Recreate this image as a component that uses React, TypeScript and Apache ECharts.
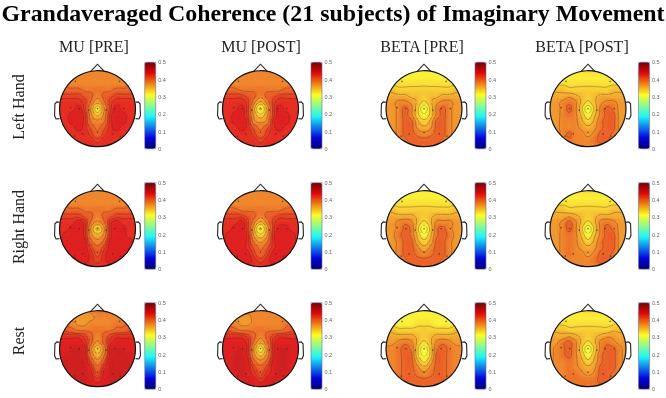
import React, { useEffect, useRef } from "react";
import * as echarts from "echarts";

const chartTitle = "Grandaveraged Coherence (21 subjects) of Imaginary Movement";
const columnNames = ["MU [PRE]", "MU [POST]", "BETA [PRE]", "BETA [POST]"];
const rowNames = ["Left Hand", "Right Hand", "Rest"];
const barTicks = [0, 0.1, 0.2, 0.3, 0.4, 0.5];
const contourLevels = [31.5, 33.5, 35.5, 37.5, 39.5, 41.5, 42.5, 43.5];
const electrodes = [[-.58,.72],[.58,.72],[0,0],[-.71,.03],[-.48,0],[.45,0],[.69,0],[-.39,-.66],[.4,-.66],[0,-.62],[-.23,-.04],[.23,-.04],[-.6,-.72],[.6,-.72]];

// Coherence x 100, rows from the nose to the back of the head, columns from left to right.
const muPreLeft = [
[39,38,38,38,38,38,38,38,38,38,38,38,39],
[39,38,38,38,38,38,38,38,38,38,38,38,39],
[40,39,38,38,38,38,38,38,38,38,38,39,40],
[41,40,40,40,39,39,39,39,39,40,40,40,41],
[42,42,42,42,41,40,38,40,41,42,42,42,42],
[43,43,43,43,42,39,36,39,42,43,43,43,43],
[43,43,43,44,42,37,32,37,42,44,43,43,43],
[43,43,44,44,43,38,35,38,43,44,44,43,43],
[43,43,44,44,43,39,38,39,43,44,44,43,43],
[43,43,43,44,43,41,39,41,43,44,43,43,43],
[43,43,43,43,43,42,40,42,43,43,43,43,43],
[43,43,43,43,43,43,42,43,43,43,43,43,43],
[43,43,43,43,43,43,43,43,43,43,43,43,43],
];
const muPostLeft = [
[39,38,38,38,38,38,38,38,38,38,38,38,39],
[39,38,38,38,38,38,38,38,38,38,38,38,39],
[40,39,38,38,38,38,38,38,38,38,38,39,40],
[41,40,40,39,39,39,39,39,39,39,40,40,41],
[42,42,42,42,41,40,38,40,41,42,42,42,42],
[43,43,43,43,42,38,35,38,42,43,43,43,43],
[43,43,43,44,42,36,31,36,42,44,43,43,43],
[43,43,44,44,42,37,34,37,42,44,44,43,43],
[43,43,44,44,43,38,37,38,43,44,44,43,43],
[43,43,43,44,43,41,39,41,43,44,43,43,43],
[43,43,43,43,43,42,40,42,43,43,43,43,43],
[43,43,43,43,43,43,42,43,43,43,43,43,43],
[43,43,43,43,43,43,43,43,43,43,43,43,43],
];
const betaPreLeft = [
[33,33,32,32,32,32,32,32,32,32,32,33,33],
[34,33,32,32,32,32,32,32,32,32,32,33,34],
[34,33,33,33,33,33,33,33,33,33,33,33,34],
[35,35,34,34,34,34,34,34,34,34,34,35,35],
[36,36,36,36,35,35,34,35,35,36,36,36,36],
[37,37,38,38,37,35,33,35,37,38,38,37,37],
[37,37,38,40,38,34,30,34,38,40,38,37,37],
[37,37,38,40,38,34,32,34,38,40,38,37,37],
[37,37,38,40,40,36,34,36,40,40,38,37,37],
[37,37,38,40,40,37,36,37,40,40,38,37,37],
[37,37,38,40,40,39,38,39,40,40,38,37,37],
[37,37,38,39,40,40,40,40,40,39,38,37,37],
[38,38,38,38,39,40,40,40,39,38,38,38,38],
];
const betaPostLeft = [
[33,33,33,33,33,33,33,33,33,33,33,33,33],
[34,33,32,32,32,32,32,32,32,32,32,33,34],
[34,33,33,33,33,33,33,33,33,33,33,33,34],
[35,35,35,34,34,34,34,34,34,34,35,35,35],
[36,36,36,37,36,35,34,35,36,36,36,36,36],
[37,37,38,39,38,35,33,35,37,38,38,37,37],
[37,37,38,40,38,34,30,34,38,40,39,37,37],
[37,37,38,39,38,35,32,35,38,40,40,37,37],
[37,37,38,38,38,36,34,36,39,40,40,37,37],
[37,37,38,38,38,37,36,37,39,40,40,37,37],
[37,37,38,40,38,38,37,38,40,40,39,37,37],
[37,37,38,39,38,38,38,39,40,40,38,37,37],
[38,38,38,38,38,38,38,38,39,38,38,38,38],
];
const muPreRight = [
[38,38,38,38,38,38,38,38,38,38,38,38,38],
[39,38,38,38,38,38,38,38,38,38,38,38,39],
[40,39,38,38,38,38,38,38,38,38,38,39,40],
[41,40,40,40,39,39,39,39,39,40,40,40,41],
[42,42,42,42,41,40,38,40,41,42,42,42,42],
[43,43,43,44,43,39,37,39,43,44,43,43,43],
[43,43,44,44,43,37,33,37,43,44,44,43,43],
[43,44,44,44,43,38,36,38,43,44,44,43,43],
[43,44,44,44,44,40,38,40,44,44,44,44,43],
[43,44,44,44,44,42,40,42,44,44,44,44,43],
[43,44,44,44,44,43,41,43,44,44,44,43,43],
[43,43,44,44,44,43,42,43,44,44,43,43,43],
[43,43,43,43,43,43,43,43,43,43,43,43,43],
];
const muPostRight = [
[38,38,38,38,38,38,38,38,38,38,38,38,38],
[39,38,38,38,38,38,38,38,38,38,38,38,39],
[40,39,38,38,38,38,38,38,38,38,38,39,40],
[41,40,40,39,39,39,39,39,39,39,40,40,41],
[42,42,42,42,41,40,38,40,41,42,42,42,42],
[43,43,43,44,42,38,35,38,42,43,43,43,43],
[43,43,44,44,42,36,31,36,42,44,44,43,43],
[43,44,44,44,43,37,34,37,43,44,44,44,43],
[43,44,44,44,43,39,37,39,43,44,44,44,43],
[43,44,44,44,43,41,39,41,43,44,44,44,43],
[43,44,44,44,44,42,40,42,44,44,44,43,43],
[43,43,44,44,44,43,42,43,44,44,43,43,43],
[43,43,43,43,43,43,43,43,43,43,43,43,43],
];
const betaPreRight = [
[33,33,32,32,32,32,32,32,32,32,32,33,33],
[34,33,32,32,32,32,32,32,32,32,32,33,34],
[34,33,33,33,33,33,33,33,33,33,33,33,34],
[35,35,34,34,34,34,34,34,34,34,34,35,35],
[36,36,36,36,36,35,34,35,36,36,36,36,36],
[37,37,38,39,38,35,33,35,38,38,38,37,37],
[37,37,38,40,39,34,30,34,39,40,38,37,37],
[37,37,39,40,39,35,32,35,39,40,39,37,37],
[37,37,38,40,40,36,34,36,40,40,38,37,37],
[37,37,38,40,40,38,36,38,40,40,38,37,37],
[37,37,38,40,40,39,38,39,40,40,38,37,37],
[37,37,38,39,40,40,40,40,40,39,38,37,37],
[38,38,38,38,39,40,40,40,39,38,38,38,38],
];
const betaPostRight = [
[33,33,33,33,33,33,33,33,33,33,33,33,33],
[34,33,32,32,32,32,32,32,32,32,32,33,34],
[34,33,33,33,33,33,33,33,33,33,33,33,34],
[35,35,35,34,34,34,34,34,34,34,35,35,35],
[36,36,36,37,36,35,34,35,36,36,36,36,36],
[37,37,38,40,38,35,33,35,38,39,38,37,37],
[37,37,38,40,38,34,30,34,38,40,39,37,37],
[37,37,38,39,38,35,32,35,38,40,40,37,37],
[37,37,38,39,38,36,34,36,39,40,40,37,37],
[37,37,38,39,38,37,36,37,39,40,40,37,37],
[37,37,38,39,38,38,37,38,40,40,39,37,37],
[37,37,38,38,38,38,38,39,40,40,38,37,37],
[38,38,38,38,38,38,38,38,39,38,38,38,38],
];
const muPreRest = [
[39,38,38,37,37,38,39,39,39,39,39,39,39],
[39,38,37,37,37,37,38,38,38,38,38,39,40],
[41,39,38,37,37,38,38,38,38,39,39,40,41],
[42,41,40,39,39,39,39,39,39,40,40,41,42],
[43,43,43,43,42,40,38,40,42,43,43,43,43],
[44,44,44,44,43,40,37,40,43,44,44,44,44],
[44,44,45,45,44,38,34,38,44,45,45,44,44],
[44,45,45,45,44,39,36,39,44,45,45,45,44],
[44,45,45,45,45,41,38,41,45,45,45,45,44],
[44,45,45,45,45,43,40,43,45,45,45,45,44],
[44,44,45,45,45,44,41,44,45,45,45,44,44],
[44,44,45,45,45,44,43,44,45,45,44,44,44],
[43,43,44,44,44,44,44,44,44,44,44,43,43],
];
const muPostRest = [
[39,38,38,38,38,38,38,38,38,38,39,39,39],
[39,38,37,37,37,38,38,38,38,38,38,39,40],
[41,39,38,37,37,38,38,38,38,38,39,40,41],
[42,41,40,39,39,39,39,39,39,39,40,41,42],
[43,43,43,43,42,40,38,40,42,43,43,43,43],
[44,44,44,44,43,39,36,39,43,44,44,44,44],
[44,44,44,45,43,37,32,37,43,45,45,44,44],
[44,44,45,45,43,38,35,38,43,45,45,44,44],
[44,44,45,45,44,40,38,40,44,45,45,44,44],
[44,44,45,45,44,42,40,42,44,45,45,44,44],
[44,44,44,45,44,43,41,43,44,45,44,44,44],
[44,44,44,44,45,44,43,44,45,44,44,44,44],
[43,43,44,44,44,44,44,44,44,44,44,43,43],
];
const betaPreRest = [
[32,32,32,32,32,32,32,32,32,32,32,32,32],
[33,32,32,32,32,32,32,32,32,32,32,32,33],
[34,33,32,32,32,33,33,33,32,32,32,33,34],
[35,35,34,34,34,34,34,34,34,34,34,35,35],
[37,36,36,36,36,35,34,35,36,36,36,36,37],
[37,37,38,39,38,35,33,35,38,39,38,37,37],
[38,38,39,40,39,34,30,34,39,40,39,38,38],
[38,38,39,40,40,34,31,34,40,40,39,38,38],
[38,38,39,40,40,36,33,36,40,40,39,38,38],
[38,38,39,40,40,38,36,38,40,40,39,38,38],
[38,38,39,40,40,39,38,39,40,40,39,38,38],
[38,38,39,40,40,40,40,40,40,40,39,38,38],
[38,38,38,39,39,40,40,40,39,39,38,38,38],
];
const betaPostRest = [
[33,33,33,33,33,33,33,33,33,33,33,33,33],
[33,32,32,32,32,32,32,32,32,32,32,33,34],
[34,33,33,33,33,33,33,33,33,33,33,34,34],
[35,35,35,34,34,34,34,34,34,34,35,35,35],
[37,36,36,37,36,35,34,35,36,37,37,36,37],
[37,37,39,40,38,35,33,35,38,39,38,37,37],
[37,38,39,40,38,34,30,34,38,40,40,38,37],
[37,38,39,40,38,35,32,35,39,40,40,38,37],
[37,38,38,39,38,36,34,36,39,40,40,38,37],
[37,38,38,39,38,37,36,37,40,40,40,38,37],
[37,38,38,39,39,38,37,38,40,40,39,38,37],
[37,37,38,39,39,39,39,39,40,40,38,37,37],
[38,38,38,38,38,39,39,39,39,38,38,38,38],
];

const panels = [
  [muPreLeft, muPostLeft, betaPreLeft, betaPostLeft],
  [muPreRight, muPostRight, betaPreRight, betaPostRight],
  [muPreRest, muPostRest, betaPreRest, betaPostRest],
];

const headX = [97.5, 260.5, 424, 588];
const headY = [108.7, 228.7, 348.7];
const barX = [144.7, 311, 475, 638.5];
const barY = [62.3, 182.7, 302.7];
const columnTitleX = [94, 261, 422, 582];
const rowLabelY = [107, 227, 341];
const R = 38;
const AX = 1.2;
const JET = ["#000080", "#0000ff", "#0080ff", "#00ffff", "#80ff80", "#ffff00", "#ff8000", "#ff0000", "#800000"];
const JET_RGB = JET.map((c) => [1, 3, 5].map((i) => parseInt(c.slice(i, i + 2), 16)));

function jet(v: number) {
  const t = Math.max(0, Math.min(0.9999, v / 50)) * 8;
  const i = Math.floor(t);
  const f = t - i;
  const a = JET_RGB[i];
  const b = JET_RGB[i + 1];
  return `rgb(${a.map((c, k) => Math.round(c + (b[k] - c) * f + (255 - (c + (b[k] - c) * f)) * 0.1)).join(",")})`;
}

function cr(p0: number, p1: number, p2: number, p3: number, t: number) {
  return 0.5 * (2 * p1 + (p2 - p0) * t + (2 * p0 - 5 * p1 + 4 * p2 - p3) * t * t + (3 * p1 - p0 - 3 * p2 + p3) * t * t * t);
}

function sampler(g: number[][]) {
  const n = g.length;
  const at = (r: number, c: number) => g[Math.max(0, Math.min(n - 1, r))][Math.max(0, Math.min(n - 1, c))];
  return (x: number, y: number) => {
    const fc = (x + 1) * 6;
    const fr = (1 - y) * 6;
    const c = Math.floor(fc);
    const r = Math.floor(fr);
    const tc = fc - c;
    const tr = fr - r;
    const row = [-1, 0, 1, 2].map((d) => cr(at(r + d, c - 1), at(r + d, c), at(r + d, c + 1), at(r + d, c + 2), tc));
    return cr(row[0], row[1], row[2], row[3], tr);
  };
}

function contourSegments(f: (x: number, y: number) => number) {
  const out: number[][] = [];
  const N = 48;
  const h = 2 / N;
  for (const level of contourLevels) {
    for (let i = 0; i < N; i++) {
      for (let j = 0; j < N; j++) {
        const x = -1 + i * h;
        const y = -1 + j * h;
        const vals = [f(x, y), f(x + h, y), f(x + h, y + h), f(x, y + h)];
        const pts = [[x, y], [x + h, y], [x + h, y + h], [x, y + h]];
        const cross: number[][] = [];
        for (let k = 0; k < 4; k++) {
          const a = vals[k];
          const b = vals[(k + 1) % 4];
          if ((a < level) !== (b < level)) {
            const t = (level - a) / (b - a);
            const p = pts[k];
            const q = pts[(k + 1) % 4];
            cross.push([p[0] + (q[0] - p[0]) * t, p[1] + (q[1] - p[1]) * t]);
          }
        }
        for (let s = 0; s + 1 < cross.length; s += 2) {
          const a = cross[s];
          const b = cross[s + 1];
          if (a[0] * a[0] + a[1] * a[1] < 1 && b[0] * b[0] + b[1] * b[1] < 1) {
            out.push(a, b, [NaN, NaN]);
          }
        }
      }
    }
  }
  return out;
}

function buildOption() {
  const grid: any[] = [];
  const xAxis: any[] = [];
  const yAxis: any[] = [];
  const series: any[] = [];
  const visualMap: any[] = [];
  panels.forEach((row, r) =>
    row.forEach((values, c) => {
      const gi = grid.length;
      grid.push({ left: headX[c] - AX * R, top: headY[r] - AX * R, width: 2 * AX * R, height: 2 * AX * R });
      xAxis.push({ gridIndex: gi, type: "value", min: -AX, max: AX, show: false });
      yAxis.push({ gridIndex: gi, type: "value", min: -AX, max: AX, show: false });
      const f = sampler(values);
      const cells: number[][] = [];
      values.forEach((vr, ri) => vr.forEach((v, ci) => cells.push([-1 + ci / 6, 1 - ri / 6, v / 100])));
      visualMap.push({
        type: "continuous", min: 0, max: 0.5, seriesIndex: series.length, dimension: 2, calculable: false,
        hoverLink: false, show: true, left: barX[c], top: barY[r], itemWidth: 11, itemHeight: 86.5, padding: 0,
        text: null, inRange: { color: JET }, outOfRange: { color: JET },
      });
      series.push({
        type: "custom", xAxisIndex: gi, yAxisIndex: gi, silent: true, z: 1, clip: false, data: cells,
        encode: { x: 0, y: 1 },
        renderItem: (_p: any, api: any) => {
          const x = api.value(0);
          const y = api.value(1);
          const children: any[] = [];
          const d = 1 / 18;
          for (let i = -1; i <= 1; i++) {
            for (let j = -1; j <= 1; j++) {
              const sx = x + i * d;
              const sy = y + j * d;
              if (sx * sx + sy * sy > 1.06) continue;
              const a = api.coord([sx - d / 2, sy + d / 2]);
              const b = api.coord([sx + d / 2, sy - d / 2]);
              children.push({
                type: "rect",
                shape: { x: a[0], y: a[1], width: b[0] - a[0] + 1, height: b[1] - a[1] + 1 },
                style: { fill: jet(f(sx, sy)) },
              });
            }
          }
          return { type: "group", children };
        },
      });
      series.push({
        type: "line", xAxisIndex: gi, yAxisIndex: gi, silent: true, z: 2, showSymbol: false, symbol: "none",
        connectNulls: false, clip: false, data: contourSegments(f),
        lineStyle: { color: "#4a2a18", width: 0.55, opacity: 0.6 },
      });
      series.push({
        type: "custom", xAxisIndex: gi, yAxisIndex: gi, silent: true, z: 3, clip: false, data: [[0, 0]],
        encode: { x: 0, y: 1 },
        renderItem: (_p: any, api: any) => {
          const o = api.coord([0, 0]);
          const rx = api.coord([1, 0])[0] - o[0];
          const toPx = (pts: number[][]) => pts.map((p) => api.coord(p));
          const line = { stroke: "#222", lineWidth: 1.1, fill: "none" };
          const ear = [[1, 0.17], [1.07, 0.18], [1.12, 0.13], [1.13, -0.18], [1.09, -0.27], [1.0, -0.26]];
          return {
            type: "group",
            children: [
              { type: "ring", shape: { cx: o[0], cy: o[1], r: rx + 6, r0: rx }, style: { fill: "#fff" } },
              { type: "circle", shape: { cx: o[0], cy: o[1], r: rx }, style: { stroke: "#111", lineWidth: 1.2, fill: "none" } },
              { type: "polyline", shape: { points: toPx([[-0.18, 0.985], [0, 1.17], [0.18, 0.985]]) }, style: line },
              { type: "polyline", shape: { points: toPx(ear) }, style: line },
              { type: "polyline", shape: { points: toPx(ear.map((p) => [-p[0], p[1]])) }, style: line },
            ],
          };
        },
      });
      series.push({
        type: "scatter", xAxisIndex: gi, yAxisIndex: gi, silent: true, z: 4, data: electrodes,
        symbolSize: 1.5, itemStyle: { color: "#4a2a18", opacity: 0.7 },
      });
      const bi = grid.length;
      grid.push({ left: barX[c], top: barY[r], width: 11, height: 86.5, show: true, z: 6, backgroundColor: "transparent", borderColor: "#6a6aa8", borderWidth: 0.6 });
      xAxis.push({ gridIndex: bi, type: "value", min: 0, max: 1, show: false });
      yAxis.push({
        gridIndex: bi, type: "value", min: barTicks[0], max: barTicks[barTicks.length - 1], interval: 0.1, position: "right",
        axisLine: { show: false }, axisTick: { show: false }, splitLine: { show: false },
        axisLabel: { fontSize: 5.5, color: "#666", margin: 2.5, fontFamily: "Liberation Sans", hideOverlap: false },
      });
    }),
  );
  const text = (t: string, x: number, y: number, rotation = 0) => ({
    type: "text", x, y, rotation, silent: true,
    style: { text: t, font: '16px "Liberation Serif"', fill: "#222", textAlign: "center", textVerticalAlign: "middle" },
  });
  return {
    animation: false,
    backgroundColor: "#fff",
    title: {
      text: chartTitle, left: 333, top: 1, textAlign: "center", padding: 0,
      textStyle: { fontFamily: "Liberation Serif", fontWeight: "bold", fontSize: 23.9, color: "#000" },
    },
    grid, xAxis, yAxis, series, visualMap,
    graphic: [
      ...columnNames.map((t, i) => text(t, columnTitleX[i], 46)),
      ...rowNames.map((t, i) => text(t, 18, rowLabelY[i], Math.PI / 2)),
    ],
  };
}

export default function App() {
  const ref = useRef<HTMLDivElement>(null);
  useEffect(() => {
    document.body.style.margin = "0";
    const chart = echarts.init(ref.current!, null, { renderer: "svg" });
    chart.setOption(buildOption() as any);
    return () => chart.dispose();
  }, []);
  return <div ref={ref} style={{ width: 666, height: 398, filter: "blur(0.5px) saturate(0.85)" }} />;
}
